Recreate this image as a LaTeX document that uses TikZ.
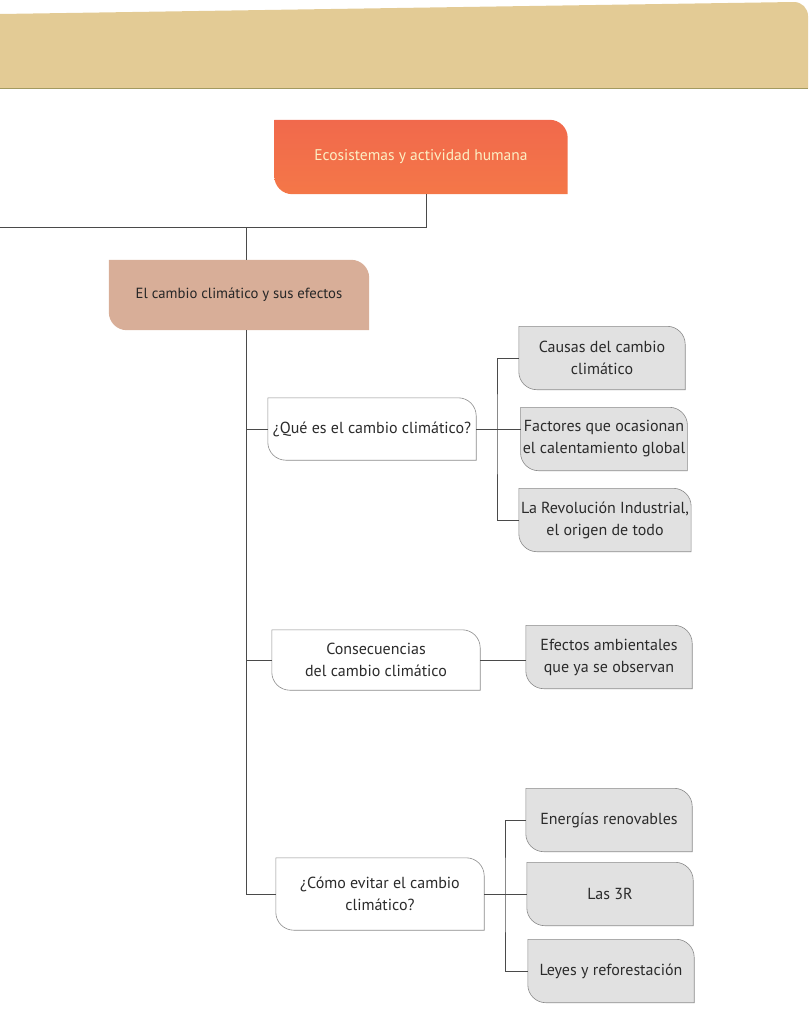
\documentclass[tikz,border=0pt]{standalone}
\usepackage{fontspec}
\setmainfont{PT Sans}
\usetikzlibrary{positioning, backgrounds, calc}

\definecolor{bandtan}{HTML}{E3CB95}
\definecolor{bandline}{HTML}{A39A60}
\definecolor{titlered}{HTML}{F1694C}
\definecolor{titleorange}{HTML}{F47748}
\definecolor{titletext}{HTML}{FCEFC4}
\definecolor{subrose}{HTML}{D8AE98}
\definecolor{leafgray}{HTML}{E1E1E1}
\definecolor{edgegray}{HTML}{8A8A8A}
\definecolor{linkgray}{HTML}{4A4A4A}
\definecolor{inktext}{HTML}{2B2B2B}

% card outline: round top right and bottom left corners
\newcommand{\cardshape}[3][18]{%
  \path[#3] (#2.north west) -- ([xshift=-#1]#2.north east)
    arc[start angle=90, end angle=0, radius=#1pt] -- (#2.south east)
    -- ([xshift=#1]#2.south west)
    arc[start angle=270, end angle=180, radius=#1pt] -- cycle;}

\tikzset{
  card/.style={inner sep=2pt, align=center, text=inktext,
    font=\fontsize{16}{22}\selectfont},
  title/.style={card, minimum width=293pt, minimum height=74pt,
    text=titletext, font=\fontsize{15.5}{18}\selectfont},
  topic/.style={card, minimum width=260pt, minimum height=70pt,
    text=black!85, font=\fontsize{14.7}{18}\selectfont},
  branch/.style={card, minimum width=208pt, minimum height=62pt},
  leaf/.style={card, minimum width=166pt, minimum height=63pt},
  link/.style={draw=linkgray, line width=0.7pt},
}

\begin{document}
\begin{tikzpicture}[x=1pt, y=-1pt]
  \useasboundingbox (0,0) rectangle (810,1023);

  % page header band
  \fill[bandtan] (0,88) -- (0,14) -- (794,2)
    arc[start angle=90, end angle=0, radius=14pt] -- (808,88) -- cycle;
  \draw[bandline, line width=1pt] (0,88) -- (808,88);

  \node[title] (eco) at (421,157) {Ecosistemas y actividad humana};
  \node[topic] (efectos) at (239,295) {El cambio climático y sus efectos};

  \node[branch] (que) at (372,429) {¿Qué es el cambio climático?};
  \node[branch, minimum height=60pt] (conse) at (376,660)
    {Consecuencias\\del cambio climático};
  \node[branch, minimum height=72pt] (evitar) at (380,894)
    {¿Cómo evitar el cambio\\climático?};

  \node[leaf] (causas) at (602,358) {Causas del cambio\\climático};
  \node[leaf] (factores) at (604,439) {Factores que ocasionan\\el calentamiento global};
  \node[leaf] (revolucion) at (605,520) {La Revolución Industrial,\\el origen de todo};
  \node[leaf] (efamb) at (609,657) {Efectos ambientales\\que ya se observan};
  \node[leaf] (energias) at (609,820) {Energías renovables};
  \node[leaf] (tresr) at (610,894) {Las 3R};
  \node[leaf] (leyes) at (611,971) {Leyes y reforestación};

  \begin{scope}[on background layer]
    \cardshape{eco}{top color=titlered, bottom color=titleorange}
    \cardshape{efectos}{fill=subrose}
    \foreach \n in {que, conse, evitar}
      \cardshape{\n}{draw=edgegray, line width=0.6pt, fill=white};
    \foreach \n in {causas, factores, revolucion, efamb, energias, tresr, leyes}
      \cardshape{\n}{draw=edgegray, line width=0.6pt, fill=leafgray};

    \coordinate (split) at (426,227);
    \coordinate (offpage) at (0,227);
    \coordinate (trunk) at (246,227);
    \coordinate (qfork) at (497,429);
    \coordinate (efork) at (505,894);

    \draw[link] (eco.south -| split) -- (split) -- (offpage);
    \draw[link] (trunk) -- (efectos.north -| trunk);
    \draw[link] (efectos.south -| trunk) |- (evitar.west);
    \draw[link] (trunk |- que.west) -- (que.west);
    \draw[link] (trunk |- conse.west) -- (conse.west);

    \draw[link] (que.east) -- (factores.west |- que.east);
    \draw[link] (causas.west) -| (qfork) |- (revolucion.west);
    \draw[link] (conse.east) -- (efamb.west |- conse.east);
    \draw[link] (evitar.east) -- (tresr.west);
    \draw[link] (energias.west) -| (efork) |- (leyes.west);
  \end{scope}
\end{tikzpicture}
\end{document}
